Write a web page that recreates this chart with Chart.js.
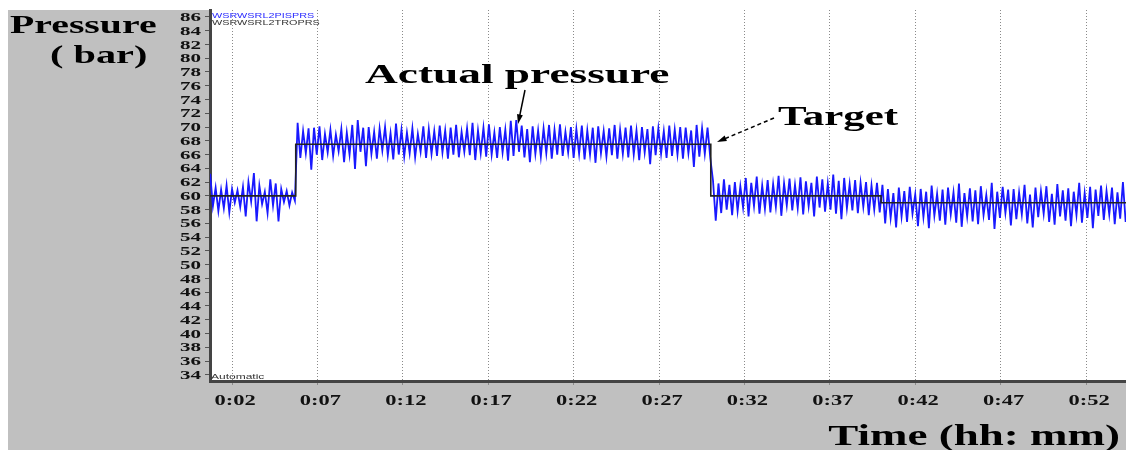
<!DOCTYPE html>
<html lang="en">
<head>
    <meta charset="UTF-8">
    <title>Pressure vs Time</title>
    <script src="https://cdn.jsdelivr.net/npm/chart.js"></script>
    <style>
        body {
            margin: 0;
            background-color: #ffffff;
        }

        .chart-container {
            position: relative;
            width: 1126px;
            height: 450px;
        }
    </style>
</head>
<body>

    <div class="chart-container">
        <canvas id="pressureChart"></canvas>
    </div>

    <script>
        // Axis ticks
        const yTicks = [34, 36, 38, 40, 42, 44, 46, 48, 50, 52, 54, 56, 58, 60, 62, 64, 66, 68, 70, 72, 74, 76, 78, 80, 82, 84, 86];
        const xTicks = [2, 7, 12, 17, 22, 27, 32, 37, 42, 47, 52];
        const xTickLabels = ['0:02', '0:07', '0:12', '0:17', '0:22', '0:27', '0:32', '0:37', '0:42', '0:47', '0:52'];

        // Target (set point) in bar, changes at these times (minutes)
        const targetTimes = [0.71, 5.73, 30.03, 40.0, 54.34];
        const targetPressure = [60, 67.5, 60, 59, 59];

        // Actual pressure samples (bar), one every sampleStep minutes
        const sampleStart = 0.72;
        const sampleStep = 0.16;
        const actualPressure = [
            // target 60
            63.2, 58.5, 61.2, 57.8, 60.9, 58.2, 61.5, 57.6, 61.0, 59.0,
            60.8, 58.4, 61.3, 57.0, 62.0, 59.2, 63.3, 56.3, 61.5, 58.8,
            60.6, 57.5, 62.4, 58.6, 61.8, 56.3, 61.0, 59.1, 60.7, 58.6,
            60.5, 59.3,
            // target 67.5
            70.6, 65.5, 69.4, 66.2, 69.8, 63.8, 69.9, 66.0, 70.1, 65.2,
            69.0, 66.3, 69.6, 65.8, 68.9, 66.5, 69.7, 64.9, 69.2, 66.0,
            70.3, 63.9, 71.0, 66.4, 69.9, 64.3, 70.0, 66.1, 69.3, 65.4,
            69.8, 66.6, 70.0, 65.9, 69.1, 65.3, 70.5, 66.0, 69.6, 65.7,
            69.2, 66.2, 69.8, 65.6, 69.0, 66.4, 70.1, 65.5, 69.7, 66.1,
            69.4, 65.8, 70.2, 66.3, 69.5, 65.4, 69.9, 66.0, 70.3, 65.6,
            69.3, 66.4, 69.8, 65.9, 70.6, 65.2, 69.5, 66.2, 69.9, 65.7,
            70.4, 66.0, 69.2, 65.5, 70.0, 66.3, 69.6, 65.1, 70.9, 65.8,
            71.0, 66.4, 70.2, 65.6, 69.7, 64.9, 70.1, 66.1, 69.5, 65.7,
            69.8, 66.2, 70.3, 65.4, 69.6, 66.0, 70.4, 65.8, 69.3, 66.3,
            70.0, 65.5, 69.7, 66.1, 70.2, 65.3, 69.5, 66.0, 69.9, 64.8,
            70.1, 66.2, 69.4, 65.7, 69.8, 65.9, 70.3, 65.4, 69.6, 66.1,
            69.9, 65.6, 70.2, 66.0, 69.5, 65.2, 70.0, 66.3, 69.7, 64.6,
            70.1, 65.9, 69.8, 66.1, 69.4, 65.5, 70.2, 65.8, 69.6, 66.0,
            70.0, 65.4, 69.9, 66.2, 69.5, 64.2, 70.3, 65.7, 69.8, 66.1,
            69.9, 65.5,
            // target 60
            62.2, 56.4, 61.8, 57.5, 62.4, 58.0, 61.6, 57.2, 62.0, 57.8,
            61.4, 58.3, 62.6, 57.0, 61.9, 58.5, 62.8, 57.4, 61.5, 58.1,
            62.3, 57.6, 61.7, 58.4, 62.9, 57.1, 61.8, 58.6, 62.5, 57.9,
            61.6, 58.2, 62.7, 57.3, 62.1, 58.5, 61.9, 57.0, 62.8, 58.3,
            62.4, 57.7, 61.8, 58.0, 63.1, 57.4, 62.2, 56.6, 62.6, 58.2,
            61.7, 57.9, 62.3, 57.5, 61.9, 58.4, 62.0, 57.2, 61.5, 58.0,
            61.9, 57.6,
            // target 59
            61.6, 56.0, 61.0, 56.8, 60.4, 55.4, 61.2, 57.0, 60.7, 56.2,
            61.3, 57.4, 60.2, 55.6, 61.0, 56.9, 60.6, 55.3, 61.5, 57.1,
            60.3, 56.4, 60.9, 55.8, 61.2, 57.3, 60.5, 56.1, 61.8, 55.5,
            60.4, 57.0, 61.1, 56.3, 60.8, 55.9, 61.4, 57.2, 60.1, 56.5,
            61.9, 55.2, 60.6, 56.8, 61.3, 57.5, 60.9, 55.7, 61.0, 56.6,
            60.5, 57.3, 61.6, 56.0, 60.2, 55.4, 61.2, 56.9, 60.7, 57.4,
            61.4, 56.2, 60.3, 55.8, 61.7, 57.0, 60.8, 56.4, 61.1, 55.6,
            60.6, 57.2, 61.9, 56.1, 60.4, 56.8, 61.3, 55.3, 60.9, 57.1,
            61.5, 56.5, 60.7, 57.3, 61.2, 55.9, 60.5, 56.7, 62.0, 56.2
        ];

        const SERIF = '"Liberation Serif", "Times New Roman", serif';
        const SANS = '"Liberation Sans", Arial, sans-serif';

        // the source picture is stretched sideways, so text is too
        function wideText(ctx, text, x, y, font, sx, align, color, baseline) {
            ctx.save();
            ctx.font = font;
            ctx.fillStyle = color;
            ctx.textAlign = align;
            ctx.textBaseline = baseline || 'alphabetic';
            ctx.translate(x, y);
            ctx.scale(sx, 1);
            ctx.fillText(text, 0, 0);
            ctx.restore();
        }

        function arrow(ctx, x1, y1, x2, y2, dashed) {
            const ang = Math.atan2(y2 - y1, x2 - x1);
            ctx.save();
            ctx.strokeStyle = '#000';
            ctx.fillStyle = '#000';
            ctx.lineWidth = 1.5;
            if (dashed) ctx.setLineDash([4, 3]);
            ctx.beginPath();
            ctx.moveTo(x1, y1);
            ctx.lineTo(x2 - 6 * Math.cos(ang), y2 - 6 * Math.sin(ang));
            ctx.stroke();
            ctx.setLineDash([]);
            ctx.beginPath();
            ctx.moveTo(x2, y2);
            ctx.lineTo(x2 - 10 * Math.cos(ang - 0.3), y2 - 10 * Math.sin(ang - 0.3));
            ctx.lineTo(x2 - 10 * Math.cos(ang + 0.3), y2 - 10 * Math.sin(ang + 0.3));
            ctx.closePath();
            ctx.fill();
            ctx.restore();
        }

        const backgroundPlugin = {
            id: 'panelBackground',
            beforeDraw(chart) {
                const ctx = chart.ctx;
                const area = chart.chartArea;
                ctx.save();
                ctx.fillStyle = '#ffffff';
                ctx.fillRect(0, 0, chart.width, chart.height);
                ctx.fillStyle = '#c0c0c0';
                ctx.fillRect(8, 10, chart.width - 8, chart.height - 10);
                ctx.fillStyle = '#ffffff';
                ctx.fillRect(area.left, area.top, area.right - area.left, area.bottom - area.top);
                ctx.restore();
            }
        };

        const labelsPlugin = {
            id: 'labels',
            afterDraw(chart) {
                const ctx = chart.ctx;
                const xs = chart.scales.x;
                const ys = chart.scales.y;

                // tick labels
                yTicks.forEach(v => {
                    wideText(ctx, String(v), 201, ys.getPixelForValue(v) + 1, 'bold 12px ' + SERIF, 1.75, 'right', '#111', 'middle');
                });
                xTicks.forEach((v, i) => {
                    wideText(ctx, xTickLabels[i], xs.getPixelForValue(v) + 3, 401, 'bold 15px ' + SERIF, 1.5, 'center', '#111', 'middle');
                });

                // axis titles
                wideText(ctx, 'Pressure', 10, 33, 'bold 26px ' + SERIF, 1.53, 'left', '#000');
                wideText(ctx, '( bar)', 50, 63, 'bold 26px ' + SERIF, 1.55, 'left', '#000');
                wideText(ctx, 'Time (hh: mm)', 1120, 445, 'bold 30px ' + SERIF, 1.5, 'right', '#000');

                // legend and mode text
                wideText(ctx, 'WSRWSRL2PISPRS', 212, 16, '7px ' + SANS, 1.55, 'left', '#2a2aff', 'middle');
                wideText(ctx, 'WSRWSRL2TROPRS', 212, 23, '7px ' + SANS, 1.55, 'left', '#333', 'middle');
                wideText(ctx, 'Automatic', 211, 377, '8px ' + SANS, 1.5, 'left', '#333', 'middle');

                // annotations
                wideText(ctx, 'Actual pressure', 365, 83, 'bold 28px ' + SERIF, 1.62, 'left', '#000');
                arrow(ctx, 525, 90, 518, 124, false);
                wideText(ctx, 'Target', 778, 125, 'bold 27px ' + SERIF, 1.59, 'left', '#000');
                arrow(ctx, 774, 118, 717, 142, true);
            }
        };

        const actualPoints = actualPressure.map((p, i) => ({ x: sampleStart + i * sampleStep, y: p }));
        const targetPoints = targetTimes.map((t, i) => ({ x: t, y: targetPressure[i] }));

        const ctx = document.getElementById('pressureChart').getContext('2d');
        const pressureChart = new Chart(ctx, {
            type: 'line',
            data: {
                datasets: [{
                    label: 'WSRWSRL2TROPRS',
                    data: targetPoints,
                    borderColor: '#222222',
                    borderWidth: 1.6,
                    stepped: 'before',
                    pointRadius: 0
                }, {
                    label: 'WSRWSRL2PISPRS',
                    data: actualPoints,
                    borderColor: 'rgb(25, 25, 255)',
                    borderWidth: 1.8,
                    tension: 0,
                    pointRadius: 0
                }]
            },
            options: {
                responsive: true,
                maintainAspectRatio: false,
                animation: false,
                layout: {
                    padding: { top: 10, left: 0, right: 0, bottom: 0 }
                },
                plugins: {
                    legend: { display: false },
                    tooltip: { enabled: false }
                },
                scales: {
                    x: {
                        type: 'linear',
                        min: 0.71,
                        max: 54.34,
                        afterBuildTicks: scale => {
                            scale.ticks = xTicks.map(v => ({ value: v }));
                        },
                        afterFit: scale => {
                            scale.height = 69;
                        },
                        ticks: { display: false },
                        grid: {
                            color: '#8a8a8a',
                            lineWidth: 1,
                            drawTicks: true,
                            tickLength: 4
                        },
                        border: {
                            color: '#444',
                            width: 3,
                            dash: [1, 2]
                        }
                    },
                    y: {
                        min: 33.1,
                        max: 87.0,
                        afterBuildTicks: scale => {
                            scale.ticks = yTicks.map(v => ({ value: v }));
                        },
                        afterFit: scale => {
                            scale.width = 210;
                        },
                        ticks: { display: false },
                        grid: {
                            drawOnChartArea: false,
                            drawTicks: true,
                            tickLength: 5,
                            color: '#555'
                        },
                        border: {
                            color: '#444',
                            width: 3
                        }
                    }
                }
            },
            plugins: [backgroundPlugin, labelsPlugin]
        });
    </script>
</body>
</html>
